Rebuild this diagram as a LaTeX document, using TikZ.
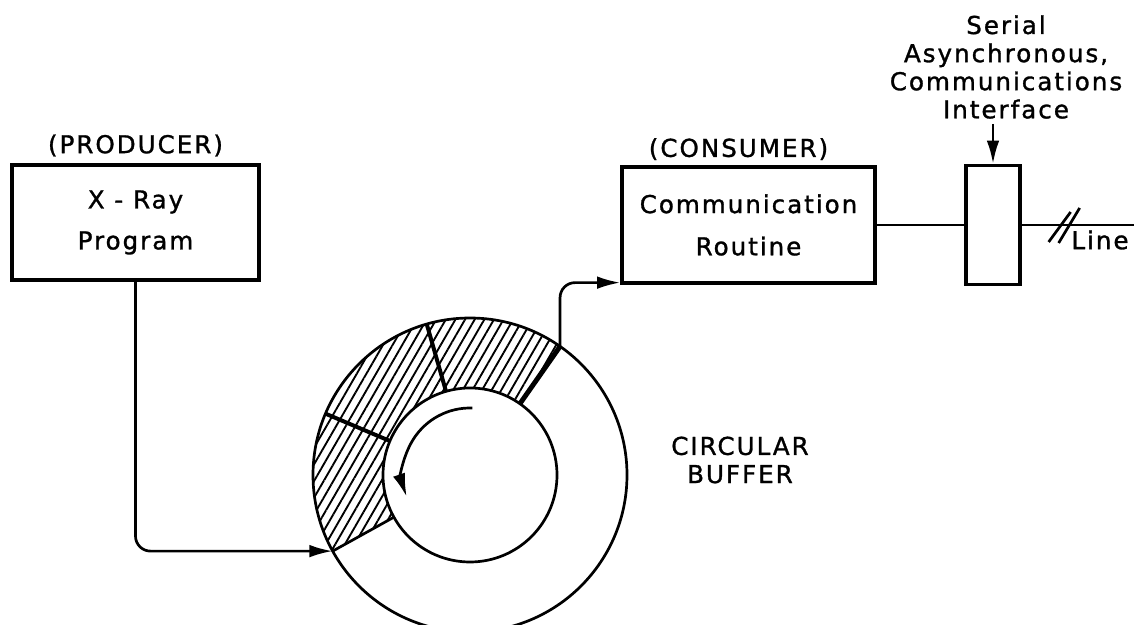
\documentclass[tikz,border=0pt]{standalone}
\usepackage{fontspec}
\setmainfont{DejaVu Sans}[LetterSpace=8, FakeBold=1.2]
\usetikzlibrary{positioning,calc,patterns.meta,arrows.meta}

\begin{document}
\begin{tikzpicture}[x=0.3mm, y=0.3mm, >={Latex[length=7mm, width=3.8mm]}, line width=2.3pt,
    every node/.style={font=\fontsize{21}{24}\selectfont},
    block/.style={draw, line width=2.8pt, align=center, inner sep=0pt}]
    \useasboundingbox (0,0) rectangle (1134,625);

    % ring buffer
    \coordinate (C) at (470,150);
    \coordinate (tail) at ($(C)+(209:157)$);
    \coordinate (head) at ($(C)+(55:157)$);
    \fill[pattern={Lines[angle=60, distance=2.5mm, line width=1.6pt]}]
      (head) arc[start angle=55, end angle=209, radius=157]
      -- ($(C)+(209:87)$) arc[start angle=209, end angle=55, radius=87] -- cycle;
    \draw (C) circle[radius=157];
    \draw (C) circle[radius=87];
    \draw[line width=4.2pt] ($(C)+(55:87)$) -- (head);
    \foreach \a in {106,157}
      \draw[line width=3.4pt] ($(C)+(\a:87)$) -- ($(C)+(\a:157)$);
    \draw ($(C)+(209:87)$) -- (tail);
    \draw[->] ($(C)+(88:67)$) arc[start angle=88, end angle=199, radius=67];
    \node (buf) [align=center] at (740,165) {CIRCULAR\\BUFFER};

    % producer and consumer
    \node (prod) [block, minimum width=74.1mm, minimum height=34.5mm] at (135.5,402.5)
                 {X - Ray\\[11pt]Program};
    \node (prodlbl) [above=0.5mm of prod] {(PRODUCER)};
    \node (cons) [block, minimum width=75.9mm, minimum height=34.8mm] at (748.5,400)
                 {Communication\\[12pt]Routine};
    \node (conslbl) [above=0mm of cons, xshift=-3mm] {(CONSUMER)};
    \draw[->, rounded corners=4.5mm] (prod.south) |- (tail);
    \draw[->, rounded corners=4.5mm] (head) |- ([yshift=0.6mm]cons.south west);

    % serial interface and line
    \node (ifc) [block, minimum width=16.2mm, minimum height=35.7mm] at (993,400) {};
    \node (ifclbl) [align=center] at (1006,558)
                   {Serial\\Asynchronous,\\Communications\\Interface};
    \draw[->] (ifclbl.south -| ifc.north) -- (ifc.north);
    \coordinate (lineend) at (1134,400);
    \draw (cons.east) -- (ifc.west);
    \draw (ifc.east) -- (lineend);
    \draw ($(ifc.east)+(27,-17)$) -- ++(22,30);
    \draw ($(ifc.east)+(37,-18)$) -- ++(21,35);
    \node (linelbl) at (1100,385) {Line};
\end{tikzpicture}
\end{document}
